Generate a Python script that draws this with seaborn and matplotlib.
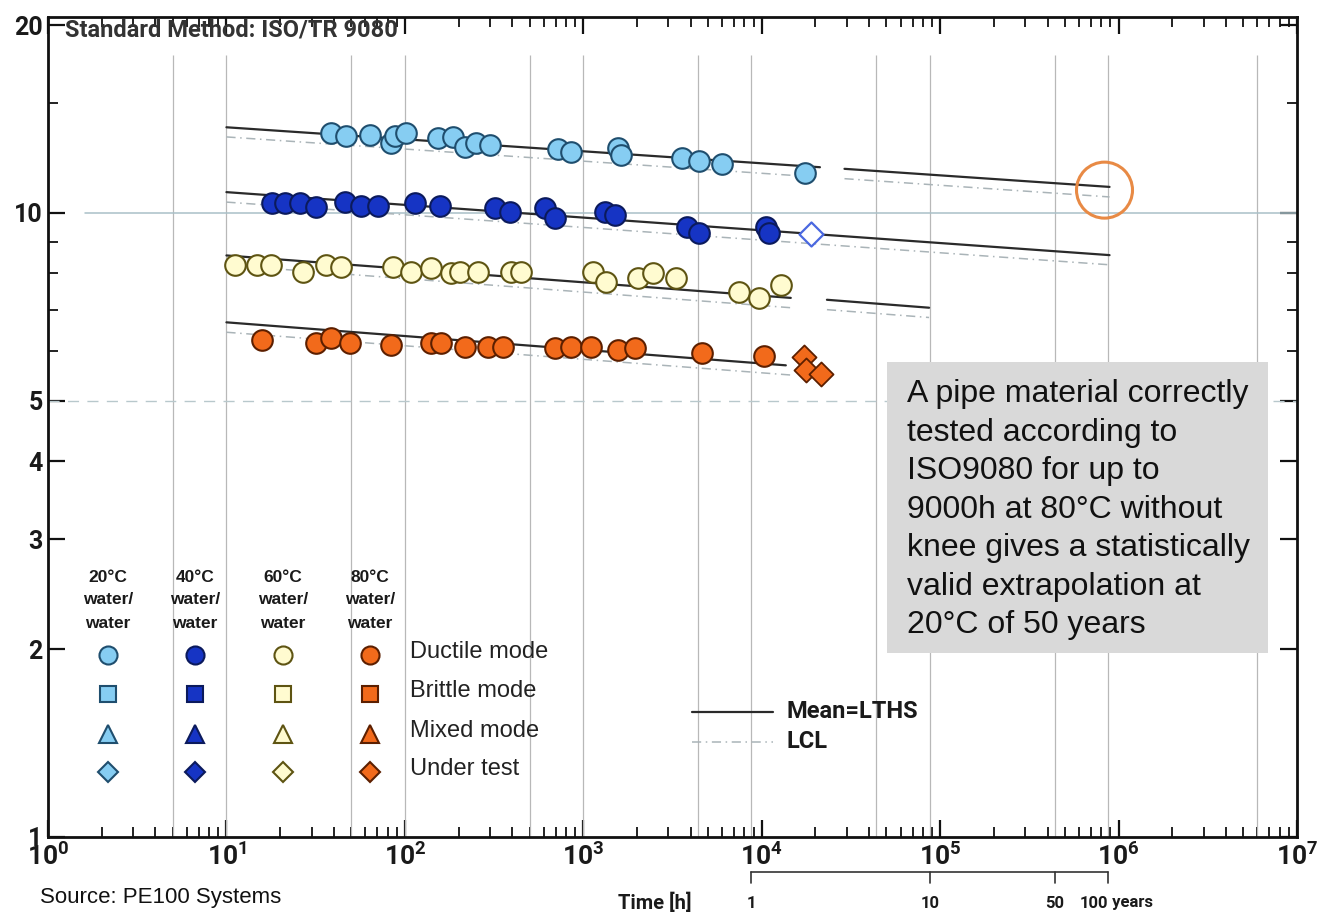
import matplotlib
matplotlib.use("Agg")
import matplotlib.pyplot as plt
import matplotlib.transforms as mtransforms
from matplotlib.lines import Line2D
from matplotlib.patches import Rectangle
from matplotlib.ticker import FixedLocator, NullFormatter, LogLocator, FuncFormatter
import seaborn as sns

# ---------------- data (time in h, hoop stress in MPa) ----------------
t20 = [38.4, 46.6, 63.6, 83.4, 87.9, 101, 153, 186, 217, 251, 300, 724, 857,
       1574, 1634, 3556, 4426, 5957, 17460]
s20 = [13.43, 13.28, 13.33, 12.95, 13.28, 13.43, 13.19, 13.24, 12.77, 12.95, 12.86,
       12.67, 12.54, 12.72, 12.40, 12.23, 12.10, 11.97, 11.60]

t40 = [18.1, 21.4, 26.0, 31.6, 46.0, 56.6, 70.5, 114, 157, 320, 389, 612, 697,
       1329, 1513, 3793, 4426, 10520, 10940]
s40 = [10.37, 10.37, 10.37, 10.22, 10.41, 10.26, 10.26, 10.37, 10.26, 10.18, 10.04,
       10.18, 9.82, 10.04, 9.93, 9.50, 9.29, 9.50, 9.29]
t40_test = [18850]
s40_test = [9.26]

t60 = [11.2, 14.9, 17.7, 26.7, 36.0, 43.7, 85.6, 108, 140, 181, 204, 257, 394, 449,
       1138, 1346, 2037, 2473, 3329, 7430, 9620, 12790]
s60 = [8.25, 8.25, 8.25, 8.04, 8.25, 8.19, 8.19, 8.04, 8.16, 8.01, 8.04, 8.04, 8.04,
       8.04, 8.04, 7.75, 7.86, 8.01, 7.86, 7.47, 7.31, 7.67]

t80 = [15.9, 31.6, 38.4, 49.1, 83.4, 140, 159, 217, 293, 355, 697, 857, 1109, 1574,
       1959, 4600, 10260]
s80 = [6.25, 6.18, 6.30, 6.18, 6.14, 6.18, 6.18, 6.10, 6.10, 6.10, 6.08, 6.10, 6.10,
       6.04, 6.08, 5.97, 5.91]
t80_test = [17220, 17660, 21440]
s80_test = [5.88, 5.60, 5.52]

# mean (LTHS) line segments and lower confidence limit (LCL) segments
mean_t = [[10, 21200], [29100, 890000], [10, 890000], [10, 14550], [23200, 86700], [10, 13650]]
mean_s = [[13.72, 11.84], [11.77, 11.01], [10.80, 8.56], [8.55, 7.31], [7.26, 7.05], [6.68, 5.70]]
lcl_t = [[10, 21200], [29100, 890000], [10, 890000], [10, 14550], [23200, 86700], [10, 14500]]
lcl_s = [[13.24, 11.41], [11.35, 10.61], [10.41, 8.26], [8.25, 7.05], [7.00, 6.80], [6.44, 5.50]]

grid_t = [5, 10, 50, 100, 500, 1000, 4380, 8760, 43800, 87600, 438000, 876000, 6.0e6]
circle_t, circle_s = 8.34e5, 10.88

year_ticks_h = [8760, 87600, 438000, 876000]
year_labels = ["1", "10", "50", "100"]

temps = ["20°C", "40°C", "60°C", "80°C"]
modes = ["Ductile mode", "Brittle mode", "Mixed mode", "Under test"]
fills = ["#86cdf2", "#1634c4", "#fffbd0", "#f26a1b"]
edges = ["#1f4e6e", "#0b1a5c", "#5e5412", "#5c1f00"]

# ---------------- figure ----------------
sns.set_style("ticks")
plt.rcParams["font.family"] = ["Roboto", "DejaVu Sans"]
plt.rcParams["font.weight"] = "bold"
plt.rcParams["mathtext.default"] = "regular"

W, H = 1318, 917
fig = plt.figure(figsize=(W / 100, H / 100), dpi=100)
ax = fig.add_axes([48 / W, 1 - 837 / H, 1249 / W, 820 / H])
ax.set_xscale("log")
ax.set_yscale("log")


def fx(px):
    return px / W


def fy(py):
    return 1 - py / H


ARIAL = ["Liberation Sans", "DejaVu Sans"]

# grid lines
ax.vlines(grid_t, 1, 17.9, colors="#b8b8b8", lw=0.9, zorder=1)
ax.axhline(10, xmin=0.03, xmax=1, color="#a9c0c8", lw=1.1, zorder=1)
ax.axhline(5, color="#b8c8cc", lw=1.0, ls=(0, (8, 6)), zorder=1)

# mean and LCL lines
for tt, ss in zip(lcl_t, lcl_s):
    sns.lineplot(x=tt, y=ss, ax=ax, color="#aab4b8", lw=1.1, ls=(0, (6, 3, 1, 3)),
                 estimator=None, sort=False, legend=False, zorder=2)
for tt, ss in zip(mean_t, mean_s):
    sns.lineplot(x=tt, y=ss, ax=ax, color="#2a2a2a", lw=1.6,
                 estimator=None, sort=False, legend=False, zorder=2)

# data points
series = [(t20, s20, 0), (t40, s40, 1), (t60, s60, 2), (t80, s80, 3)]
for tt, ss, i in series:
    sns.scatterplot(x=tt, y=ss, ax=ax, color=fills[i], edgecolor=edges[i], s=220,
                    linewidth=1.5, marker="o", legend=False, zorder=3)
sns.scatterplot(x=t40_test, y=s40_test, ax=ax, color="white", edgecolor="#4a68e0", s=150,
                linewidth=1.6, marker="D", legend=False, zorder=3)
sns.scatterplot(x=t80_test, y=s80_test, ax=ax, color=fills[3], edgecolor=edges[3], s=150,
                linewidth=1.3, marker="D", legend=False, zorder=3)

# extrapolation circle
ax.scatter([circle_t], [circle_s], s=(56 * 0.72) ** 2, facecolors="none",
           edgecolors="#e88a45", linewidths=2.2, zorder=4)

# axes limits / ticks
ax.set_xlim(1, 1e7)
ax.set_ylim(1, 20.61)
ax.yaxis.set_major_locator(FixedLocator([1, 2, 3, 4, 5, 10, 20]))
ax.yaxis.set_major_formatter(FuncFormatter(lambda v, p: f"{v:g}"))
ax.yaxis.set_minor_locator(FixedLocator([6, 7, 8, 9, 15]))
ax.yaxis.set_minor_formatter(NullFormatter())
ax.xaxis.set_major_locator(LogLocator(base=10, numticks=12))
ax.xaxis.set_minor_locator(LogLocator(base=10, subs=range(2, 10), numticks=12))
ax.xaxis.set_minor_formatter(NullFormatter())
ax.tick_params(which="both", direction="in", top=True, right=True, color="#111111")
ax.tick_params(which="major", length=12, width=1.6)
ax.tick_params(which="minor", length=7, width=1.3)
ax.tick_params(axis="x", which="major", labelsize=19, pad=4, labelcolor="#1a1a1a")
ax.tick_params(axis="y", which="major", labelsize=18, pad=4, labelcolor="#1a1a1a")
for sp in ax.spines.values():
    sp.set_linewidth(2.0)
    sp.set_color("#111111")
ax.set_xlabel("")
ax.set_ylabel("")

# title
fig.text(fx(65), fy(30), "Standard Method: ISO/TR 9080", fontsize=17, color="#333333",
         ha="left", va="center", weight="bold")

# symbol legend table
col_x = [108, 195, 283, 370]
row_y = [655, 694, 734, 772]
mk = ["o", "s", "^", "D"]
msz = [13, 11.5, 12.5, 10]
for i, cx in enumerate(col_x):
    for txt, yy in zip([temps[i], "water/", "water"], [578, 600, 623]):
        fig.text(fx(cx), fy(yy), txt, fontsize=12.5, ha="center", va="center",
                 color="#1a1a1a", weight="bold", family=ARIAL)
    for j, ry in enumerate(row_y):
        fig.add_artist(Line2D([fx(cx)], [fy(ry)], marker=mk[j], markersize=msz[j],
                              markerfacecolor=fills[i], markeredgecolor=edges[i],
                              markeredgewidth=1.5, linestyle="none", transform=fig.transFigure))
for j, ry in enumerate(row_y):
    fig.text(fx(410), fy(ry - 3), modes[j], fontsize=17, ha="left", va="center",
             color="#222222", weight="normal", family=ARIAL)

# Mean / LCL legend
fig.add_artist(Line2D([fx(692), fx(773)], [fy(712), fy(712)], color="#2a2a2a", lw=1.6,
                      transform=fig.transFigure))
fig.add_artist(Line2D([fx(692), fx(773)], [fy(742), fy(742)], color="#aab4b8", lw=1.1,
                      ls=(0, (6, 3, 1, 3)), transform=fig.transFigure))
fig.text(fx(786), fy(712), "Mean=LTHS", fontsize=17, ha="left", va="center", color="#1a1a1a")
fig.text(fx(786), fy(742), "LCL", fontsize=17, ha="left", va="center", color="#1a1a1a")

# annotation box
ax.add_patch(Rectangle((fx(887), fy(653)), (1268 - 887) / W, (653 - 362) / H,
                       transform=fig.transFigure, facecolor="#d9d9d9", edgecolor="none",
                       clip_on=False, zorder=5))
fig.text(fx(907), fy(379),
         "A pipe material correctly\ntested according to\nISO9080 for up to\n9000h at 80°C without\n"
         "knee gives a statistically\nvalid extrapolation at\n20°C of 50 years",
         fontsize=23, ha="left", va="top", linespacing=1.37, color="#111111", weight="normal",
         family=ARIAL, zorder=6)

# years scale under the axis
blend = mtransforms.blended_transform_factory(ax.transData, fig.transFigure)
ax.plot([year_ticks_h[0], year_ticks_h[-1]], [fy(872), fy(872)], color="#333333", lw=1.2,
        transform=blend, clip_on=False)
for th, lab in zip(year_ticks_h, year_labels):
    ax.plot([th, th], [fy(872), fy(883)], color="#333333", lw=1.2, transform=blend, clip_on=False)
    if lab == "100":
        ax.text(th, fy(903), "100", transform=blend, ha="right", va="center", fontsize=12,
                color="#1a1a1a")
        ax.text(th, fy(903), " years", transform=blend, ha="left", va="center", fontsize=12,
                color="#1a1a1a")
    else:
        ax.text(th, fy(903), lab, transform=blend, ha="center", va="center", fontsize=12,
                color="#1a1a1a")
fig.text(fx(655), fy(903), "Time [h]", fontsize=14.5, ha="center", va="center", color="#1a1a1a")
fig.text(fx(40), fy(898), "Source: PE100 Systems", fontsize=16, ha="left", va="center",
         weight="normal", color="#111111", family=ARIAL)

fig.savefig("out.png", dpi=100)
